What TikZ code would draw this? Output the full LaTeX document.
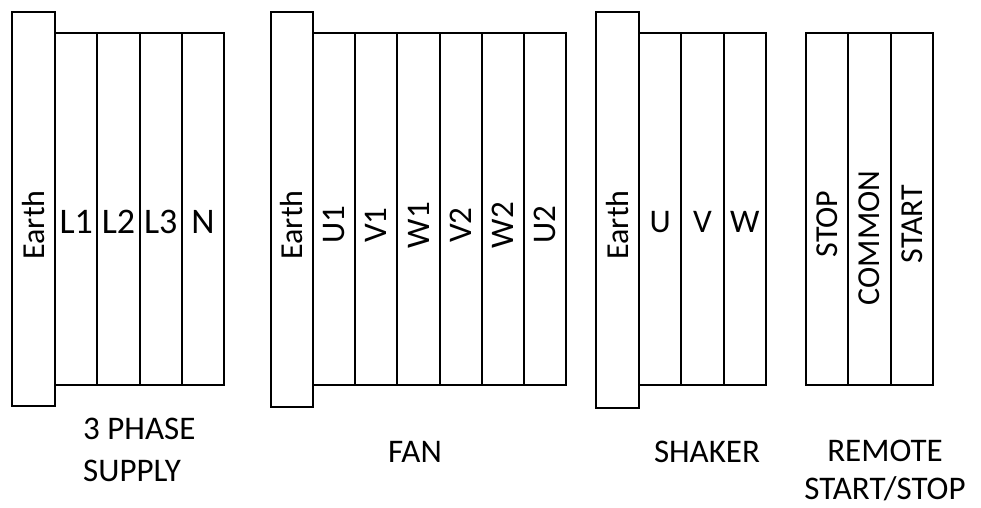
\documentclass[tikz,border=0pt]{standalone}
\usepackage{fontspec}
\setmainfont{Carlito}

\begin{document}
\begin{tikzpicture}[x=1pt, y=-1pt]
        \useasboundingbox (0,0) rectangle (981,507);
        % terminal blocks
        \begin{scope}[every node/.style={draw, line width=1.8pt, rectangle, inner sep=0pt, minimum width=42.3pt, minimum height=352pt}]
                % 3 phase supply
                \node (EarthA) at (33.5,209) [minimum width=43pt, minimum height=394pt] {};
                \node (L1) at (76.2,209) {};
                \node (L2) at (118.5,209) {};
                \node (L3) at (160.8,209) {};
                \node (N) at (203.1,209) {};
                % fan
                \node (EarthB) at (292,209.5) [minimum width=42pt, minimum height=395pt] {};
                \node (U1) at (334.1,209) {};
                \node (V1) at (376.3,209) {};
                \node (W1) at (418.5,209) {};
                \node (V2) at (460.7,209) {};
                \node (W2) at (502.9,209) {};
                \node (U2) at (545.1,209) {};
                % shaker
                \node (EarthC) at (617.5,210) [minimum width=43pt, minimum height=396pt] {};
                \node (U) at (660.2,209) {};
                \node (V) at (702.5,209) {};
                \node (W) at (744.8,209) {};
                % remote start/stop
                \node (Stop) at (827.2,209) {};
                \node (Common) at (869.5,209) {};
                \node (Start) at (911.8,209) {};
        \end{scope}
        % terminal names
        \begin{scope}[every node/.style={inner sep=0pt, font=\fontsize{33}{40}\selectfont}]
                \node (EarthAtext) at (EarthA.center |- 0,225) [rotate=90, font=\fontsize{32}{38}\selectfont] {Earth};
                \node (L1text) at (L1.center |- 0,222) [font=\fontsize{36}{42}\selectfont] {L1};
                \node (L2text) at (L2.center |- 0,222) [font=\fontsize{36}{42}\selectfont] {L2};
                \node (L3text) at (L3.center |- 0,222) [font=\fontsize{36}{42}\selectfont] {L3};
                \node (Ntext) at (N.center |- 0,222) [font=\fontsize{36}{42}\selectfont] {N};
                \node (EarthBtext) at (EarthB.center |- 0,225) [rotate=90, font=\fontsize{32}{38}\selectfont] {Earth};
                \node (U1text) at (U1.center |- 0,225) [rotate=90] {U1};
                \node (V1text) at (V1.center |- 0,225) [rotate=90] {V1};
                \node (W1text) at (W1.center |- 0,225) [rotate=90] {W1};
                \node (V2text) at (V2.center |- 0,225) [rotate=90] {V2};
                \node (W2text) at (W2.center |- 0,225) [rotate=90] {W2};
                \node (U2text) at (U2.center |- 0,225) [rotate=90] {U2};
                \node (EarthCtext) at (EarthC.center |- 0,225) [rotate=90, font=\fontsize{32}{38}\selectfont] {Earth};
                \node (Utext) at (U.center |- 0,222) {U};
                \node (Vtext) at (V.center |- 0,222) {V};
                \node (Wtext) at (W.center |- 0,222) {W};
                \node (Stoptext) at (Stop.center |- 0,224) [rotate=90, font=\fontsize{32}{38}\selectfont] {STOP};
                \node (Commontext) at (Common.center |- 0,238) [rotate=90, font=\fontsize{32}{38}\selectfont] {COMMON};
                \node (Starttext) at (Start.center |- 0,224) [rotate=90, font=\fontsize{32}{38}\selectfont] {START};
        \end{scope}
        % block names
        \begin{scope}[every node/.style={inner sep=0pt}]
                \node (Supply) at (83,418) [anchor=north west, align=left, font=\fontsize{33}{42}\selectfont] {3 PHASE\\SUPPLY};
                \node (Fan) at (415,462) [anchor=base, font=\fontsize{33}{40}\selectfont] {FAN};
                \node (Shaker) at (707,462) [anchor=base, font=\fontsize{33}{40}\selectfont] {SHAKER};
                \node (Remote) at (885,440) [anchor=north, align=center, font=\fontsize{33}{38}\selectfont] {REMOTE\\START/STOP};
        \end{scope}
\end{tikzpicture}
\end{document}
